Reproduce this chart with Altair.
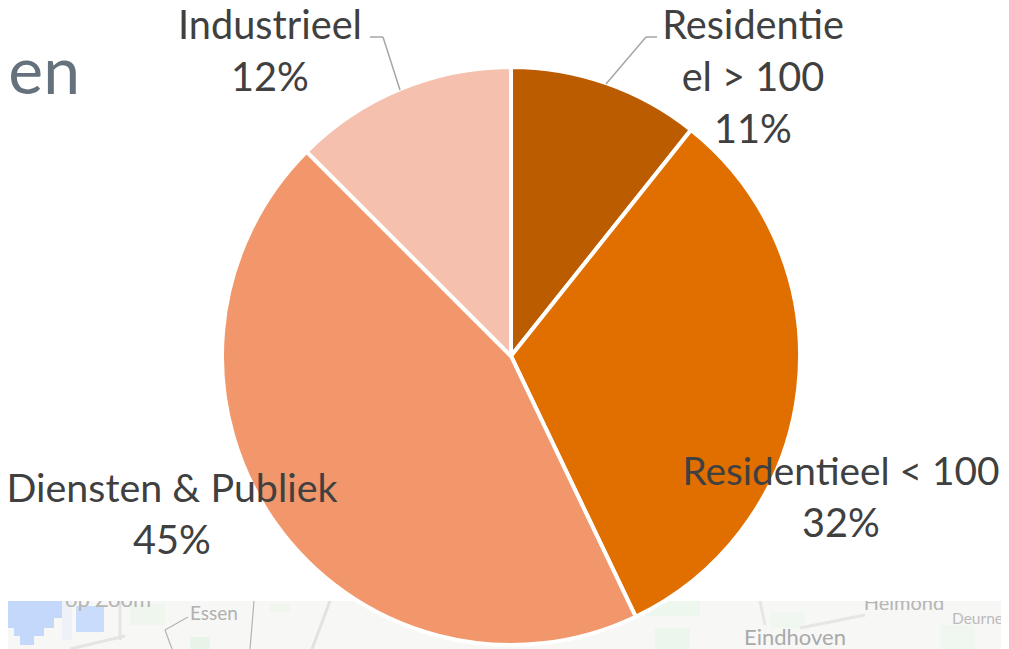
import altair as alt
import pandas as pd

categories = ["Residentieel > 100", "Residentieel < 100", "Diensten & Publiek", "Industrieel"]
values = [10.7, 32.2, 44.6, 12.5]
colors = ["#bc5c00", "#e06f00", "#f2966b", "#f6c0ae"]
order = [0, 1, 2, 3]

OX, OY = 8, 8
W, H = 993, 641

def X(v): return alt.value(v - OX)
def Y(v): return alt.value(v - OY)

def rect(x0, x1, y0, y1, color, op=1.0):
    return alt.Chart(pd.DataFrame({"a": [0]})).mark_rect(color=color, opacity=op).encode(
        x=X(x0), x2=X(x1), y=Y(y0), y2=Y(y1))

def seg(x0, y0, x1, y1, color, w=1.5):
    return alt.Chart(pd.DataFrame({"a": [0]})).mark_rule(color=color, strokeWidth=w).encode(
        x=X(x0), x2=X(x1), y=Y(y0), y2=Y(y1))

def txt(s, x, y, size=39.7, color="#404040", align="center", weight=400):
    return alt.Chart(pd.DataFrame({"t": [s]})).mark_text(
        font="Lato", fontSize=size, color=color, align=align, baseline="alphabetic", fontWeight=weight
    ).encode(text="t:N", x=X(x), y=Y(y))

layers = []
# map strip background
layers += [
    rect(8, 1001, 601, 649, "#f7f7f6"),
    rect(8, 62, 601, 618, "#c4d8fb"),
    rect(8, 54, 618, 628, "#c4d8fb"),
    rect(14, 44, 628, 636, "#c4d8fb"),
    rect(20, 34, 636, 645, "#c4d8fb"),
    rect(62, 72, 601, 640, "#eef2f8"),
    rect(76, 104, 606, 632, "#c9dcfb"),
    rect(130, 165, 604, 625, "#eef6ed"),
    rect(190, 210, 637, 649, "#e8f4e8"),
    rect(270, 290, 604, 612, "#eef6ed"),
    rect(645, 700, 601, 616, "#eef7ee"),
    rect(655, 690, 628, 649, "#ecf6ec"),
    rect(770, 805, 612, 628, "#f0f7f0"),
    rect(940, 975, 625, 649, "#f0f7f0"),
    seg(120, 601, 120, 640, "#e4e4e4", 3),
    seg(70, 649, 125, 636, "#e4e4e4", 3),
    seg(165, 630, 188, 617, "#b4b4b4", 1.2),
    seg(165, 630, 172, 649, "#b4b4b4", 1.2),
    seg(254, 601, 250, 649, "#b4b4b4", 1.2),
    seg(330, 601, 312, 649, "#e2e2e2", 3),
    seg(760, 601, 765, 625, "#e6e6e6", 3),
    seg(800, 628, 865, 615, "#e6e6e6", 3),
]
layers += [
    txt("op Zoom", 108, 607, 22, "#b5b5b5"),
    txt("Essen", 214, 620, 19, "#b0b0b0"),
    txt("Eindhoven", 795, 645, 22, "#a9a9a9"),
    txt("Helmond", 904, 610, 20, "#b5b5b5"),
    txt("Deurne", 952, 624, 15.5, "#bbbbbb", "left"),
    rect(8, 1001, 8, 601, "#ffffff"),
]

pie_df = pd.DataFrame({"category": categories, "value": values, "order": order})
pie = alt.Chart(pie_df).mark_arc(radius=289, stroke="#ffffff", strokeWidth=4).encode(
    theta=alt.Theta("value:Q", stack=True),
    order=alt.Order("order:Q"),
    color=alt.Color("category:N", scale=alt.Scale(domain=categories, range=colors), legend=None),
    x=X(511),
    y=Y(356),
)
layers.append(pie)

layers += [
    seg(370, 37, 383, 37, "#a6a6a6"),
    seg(383, 37, 400, 90, "#a6a6a6"),
    seg(657, 37, 646, 37, "#a6a6a6"),
    seg(646, 37, 606, 84, "#a6a6a6"),
]

layers += [
    txt("en", 80, 94, 66, "#65727d", "right"),
    txt("Industrieel", 270, 39),
    txt("12%", 270, 91),
    txt("Residentie", 753, 39),
    txt("el > 100", 753, 91),
    txt("11%", 753, 143),
    txt("Residentieel < 100", 841, 485, 38.8),
    txt("32%", 841, 537),
    txt("Diensten & Publiek", 172, 502, 39.4),
    txt("45%", 172, 554),
]

chart = alt.layer(*layers).properties(
    width=W, height=H, padding=0, autosize=alt.AutoSizeParams(type="none"),
    background="#ffffff"
).configure_view(stroke=None)

chart.save("out.html", embed_options={"renderer": "svg", "actions": False})
